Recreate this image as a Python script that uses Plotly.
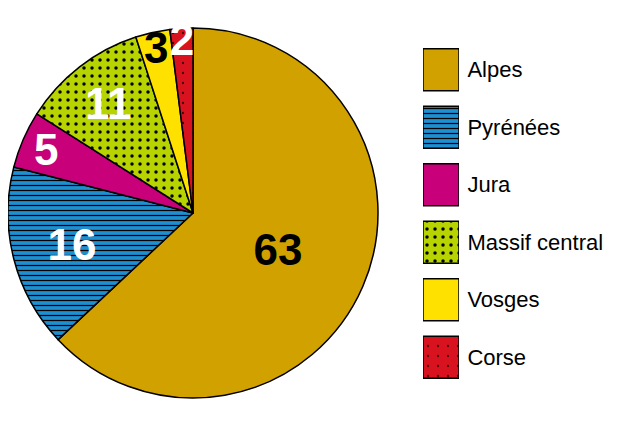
import plotly.graph_objects as go

regions = ["Alpes", "Pyrénées", "Jura", "Massif central", "Vosges", "Corse"]
values = [63, 16, 5, 11, 3, 2]
colors = ["#D1A100", "#1E90D2", "#C8007A", "#B7D400", "#FFE100", "#D8121E"]
label_colors = ["black", "white", "white", "white", "black", "white"]
pattern_shapes = ["", "-", "", ".", "", "."]
pattern_fg = ["#000000", "#000000", "#000000", "#000000", "#000000", "#4a0000"]
pattern_size = [8, 5, 8, 8, 8, 10]
pattern_solidity = [0.2, 0.25, 0.2, 0.15, 0.2, 0.04]

W, H = 614, 415   # page body has an 8px margin
OFF = 8


def px_x(a, b):
    return [max(0, (a - OFF) / W), min(1, (b - OFF) / W)]


def px_y(top, bottom):
    return [max(0, 1 - (bottom - OFF) / H), min(1, 1 - (top - OFF) / H)]


fig = go.Figure()

fig.add_trace(go.Pie(
    labels=regions,
    values=values,
    text=[str(v) for v in values],
    textinfo="text",
    textposition="inside",
    insidetextorientation="horizontal",
    textfont=dict(family="Liberation Sans, Arial", size=44,
                  color=label_colors, weight="bold"),
    sort=False,
    direction="clockwise",
    rotation=0,
    marker=dict(colors=colors, line=dict(color="black", width=1.5),
                pattern=dict(shape=pattern_shapes, fgcolor=pattern_fg, bgcolor=colors,
                             size=pattern_size, solidity=pattern_solidity,
                             fillmode="replace")),
    domain=dict(x=px_x(8, 378), y=px_y(28, 398)),
    showlegend=False,
    hoverinfo="label+value",
))

# legend drawn as bars, one trace per region
for i, name in enumerate(regions):
    pat = dict(shape=pattern_shapes[i], fgcolor=pattern_fg[i], bgcolor=colors[i],
               size=pattern_size[i], solidity=pattern_solidity[i], fillmode="replace")
    fig.add_trace(go.Bar(
        y=[name],
        x=[1],
        orientation="h",
        width=0.73,
        marker=dict(color=colors[i], line=dict(color="black", width=1.5), pattern=pat),
        xaxis="x2",
        yaxis="y2",
        showlegend=False,
        hoverinfo="y",
    ))

fig.update_layout(
    width=W,
    height=H,
    margin=dict(l=0, r=0, t=0, b=0),
    paper_bgcolor="white",
    plot_bgcolor="white",
    barmode="overlay",
    uniformtext=dict(minsize=44, mode="show"),
    xaxis2=dict(domain=px_x(423, 459), range=[0, 1], visible=False, fixedrange=True,
                automargin=False),
    yaxis2=dict(
        domain=px_y(41, 386),
        anchor="x2",
        side="right",
        autorange="reversed",
        categoryorder="array",
        categoryarray=regions,
        showgrid=False,
        zeroline=False,
        showline=False,
        ticks="outside",
        ticklen=3,
        tickcolor="rgba(0,0,0,0)",
        tickfont=dict(family="Liberation Sans, Arial", size=22, color="black"),
        automargin=False,
        fixedrange=True,
    ),
)

fig.write_html("out.html")
